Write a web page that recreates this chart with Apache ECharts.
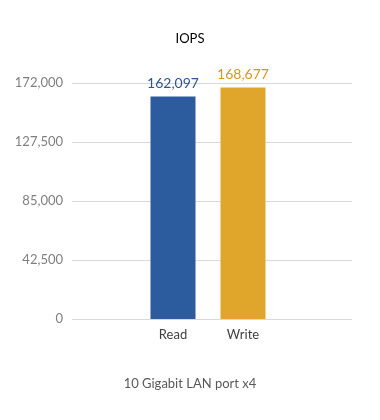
<!DOCTYPE html>
<html>
<head>
<meta charset="utf-8">
<script src="https://cdn.jsdelivr.net/npm/echarts@6/dist/echarts.min.js"></script>
<style>
html,body{margin:0;padding:0;background:#fff;}
#chart{width:380px;height:420px;}
</style>
</head>
<body>
<div id="chart"></div>
<script>
var chartTitle = 'IOPS';
var groupLabel = '10 Gigabit LAN port x4';
var categories = ['Read', 'Write'];
var values = [162097, 168677];
var barColors = ['#2C5B9E', '#E0A62C'];
var labelColors = ['#2F5597', '#D4971F'];
var yTickLabels = ['0', '42,500', '85,000', '127,500', '172,000'];
var yMax = 172000;
var yStep = 43000;

var FONT = 'Lato, "Open Sans", sans-serif';
var chart = echarts.init(document.getElementById('chart'), null, {renderer: 'canvas'});

var axisCats = [''].concat(categories).concat(['']);
var seriesData = [null].concat(values.map(function (v, i) {
  return {
    value: v,
    itemStyle: {color: barColors[i]},
    label: {color: labelColors[i]}
  };
})).concat([null]);

chart.setOption({
  backgroundColor: '#ffffff',
  animation: false,
  title: [
    {text: chartTitle, left: 'center', top: 27,
     textStyle: {fontFamily: FONT, fontSize: 13, fontWeight: 'normal', color: '#000000'}},
    {text: groupLabel, left: 'center', top: 372,
     textStyle: {fontFamily: FONT, fontSize: 13, fontWeight: 'normal', color: '#595959'}}
  ],
  grid: [
    {left: 72, right: 28, top: 83, bottom: 101},
    {left: 68, right: 32, top: 83, bottom: 101}
  ],
  xAxis: [
    {type: 'category', gridIndex: 0, data: [''], show: false},
    {type: 'category', gridIndex: 1, data: axisCats,
     axisLine: {show: false}, axisTick: {show: false},
     axisLabel: {fontFamily: FONT, fontSize: 13, color: '#404040', margin: 9}}
  ],
  yAxis: [
    {type: 'value', gridIndex: 0, min: 0, max: yMax, interval: yStep,
     axisLine: {show: false}, axisTick: {show: false},
     splitLine: {lineStyle: {color: '#D9D9D9', width: 1}},
     axisLabel: {fontFamily: FONT, fontSize: 13, color: '#7F7F7F', margin: 9,
       formatter: function (v) { return yTickLabels[Math.round(v / yStep)]; }}},
    {type: 'value', gridIndex: 1, min: 0, max: yMax, interval: yStep, show: false,
     splitLine: {show: false}}
  ],
  series: [{
    type: 'bar',
    xAxisIndex: 1,
    yAxisIndex: 1,
    data: seriesData,
    barWidth: 45,
    label: {
      show: true,
      position: 'top',
      distance: 6,
      fontFamily: FONT,
      fontSize: 14,
      formatter: function (p) { return p.value.toLocaleString('en-US'); }
    }
  }]
});
</script>
</body>
</html>
